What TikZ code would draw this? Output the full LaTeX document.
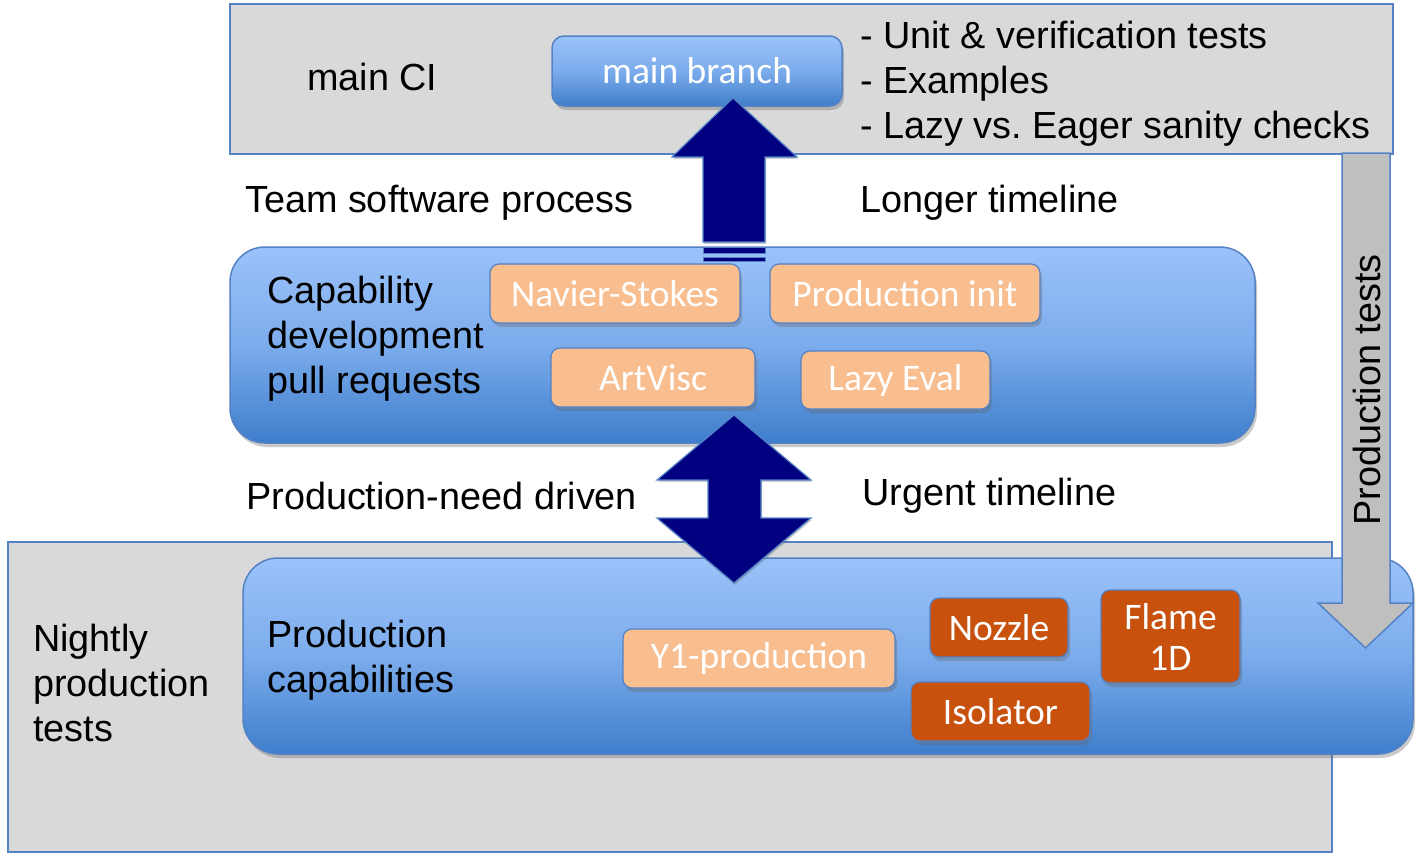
\documentclass[tikz,border=0pt]{standalone}
\usepackage{fontspec}
\setmainfont{Liberation Sans}
\newfontfamily\calfont{Carlito}
\usetikzlibrary{shadows}
\frenchspacing
\definecolor{boxgray}{RGB}{217,217,217}
\definecolor{edgeblue}{RGB}{84,130,196}
\definecolor{bluetop}{RGB}{155,194,250}
\definecolor{bluemid}{RGB}{124,172,236}
\definecolor{bluebot}{RGB}{62,126,204}
\definecolor{peachfill}{RGB}{248,190,143}
\definecolor{rustfill}{RGB}{200,81,14}
\definecolor{navyarrow}{RGB}{0,0,128}
\definecolor{arrowgray}{RGB}{191,191,191}
\tikzset{
  bigfont/.style={font=\fontsize{37.8}{45}\selectfont},
  labelfont/.style={font=\calfont\fontsize{37.5}{40}\selectfont, text=white},
  graybox/.style={draw=edgeblue, line width=1.5pt, fill=boxgray, inner sep=0pt},
  softshadow/.style={drop shadow={shadow xshift=2pt, shadow yshift=-4pt, opacity=0.35, fill=black!60}},
  bluebox/.style={draw=edgeblue, line width=1.5pt, top color=bluetop, bottom color=bluebot, middle color=bluemid, rounded corners=35pt, inner sep=0pt, softshadow},
  branchbox/.style={draw=edgeblue, line width=1.5pt, top color=bluetop, bottom color=bluebot, middle color=bluemid, rounded corners=12pt, inner sep=0pt, softshadow, labelfont},
  peachbox/.style={draw=edgeblue, line width=1.2pt, fill=peachfill, rounded corners=9pt, inner sep=0pt, softshadow, labelfont},
  rustbox/.style={draw=edgeblue, line width=1.2pt, fill=rustfill, rounded corners=9pt, inner sep=0pt, softshadow, labelfont},
  txt/.style={bigfont, inner sep=0pt, anchor=west, align=left},
  navyblock/.style={draw=edgeblue, line width=1.2pt, fill=navyarrow, drop shadow={shadow xshift=1pt, shadow yshift=-2pt, opacity=0.3, fill=black!60}},
  grayblock/.style={draw=edgeblue, line width=1.5pt, fill=arrowgray},
}
\begin{document}
\begin{tikzpicture}[x=1pt,y=-1pt]
\useasboundingbox (0,0) rectangle (1422,862);
% gray containers
\node[graybox, minimum width=1163, minimum height=150] (ci) at (811.5,79) {};
\node[graybox, minimum width=1324, minimum height=310] (nightly) at (670,697) {};
% blue boxes
\node[bluebox, minimum width=1025, minimum height=196] (cap) at (742.5,345) {};
\node[bluebox, minimum width=1170, minimum height=196] (prod) at (828,656) {};
\node[branchbox, minimum width=290, minimum height=70] (mb) at (697,71) {main branch};
% texts
\node[txt] (mainci) at (307,77) {main CI};
\node[txt] (tests) at (860,84) {- Unit \& verification tests\\- Examples\\- Lazy vs. Eager sanity checks};
\node[txt] (team) at (245,203) {Team software process};
\node[txt] (longer) at (860,203) {Longer timeline};
\node[txt] (captxt) at (267,339) {Capability\\development\\pull requests};
\node[txt] (need) at (246,496) {Production-need driven};
\node[txt] (urgent) at (862,496) {Urgent timeline};
\node[txt] (nighttxt) at (33,683) {Nightly\\production\\tests};
\node[txt] (prodtxt) at (267,660.5) {Production\\capabilities};
% small boxes
\node[peachbox, minimum width=250, minimum height=59] (ns) at (615,293.5) {Navier-Stokes};
\node[peachbox, minimum width=270, minimum height=59] (pi) at (905,293.5) {Production init};
\node[peachbox, minimum width=204, minimum height=59] (av) at (653,377.5) {ArtVisc};
\node[peachbox, minimum width=189, minimum height=58] (le) at (895.5,380) {Lazy Eval};
\node[peachbox, minimum width=272, minimum height=59] (y1) at (759,658.5) {Y1-production};
\node[rustbox, minimum width=138, minimum height=59] (noz) at (999,627.5) {Nozzle};
\node[rustbox, minimum width=139, minimum height=93, align=center, font=\calfont\fontsize{37.5}{41}\selectfont] (fl) at (1170.5,636.5) {Flame\\1D};
\node[rustbox, minimum width=179, minimum height=59] (iso) at (1000.5,711.5) {Isolator};
% up arrow (capability -> main branch)
\path[navyblock] (733,98) -- (797,157) -- (765,157) -- (765,242) -- (703,242) -- (703,157) -- (672,157) -- cycle;
\path[draw=edgeblue, line width=1pt, fill=navyarrow] (703,247.5) rectangle (765,253.5);
\path[draw=edgeblue, line width=1pt, fill=navyarrow] (703,257) rectangle (765,261);
% double arrow (capability <-> production)
\path[navyblock] (734,415) -- (811,480) -- (761,480) -- (761,518) -- (811,518) -- (734,583) -- (657,518) -- (708,518) -- (708,480) -- (657,480) -- cycle;
% production tests arrow
\path[grayblock] (1342,153) -- (1390,153) -- (1390,603) -- (1413,603) -- (1365.5,648) -- (1318,603) -- (1342,603) -- cycle;
\node[bigfont, rotate=90, inner sep=0pt] (ptests) at (1367,390) {Production tests};
\end{tikzpicture}
\end{document}
